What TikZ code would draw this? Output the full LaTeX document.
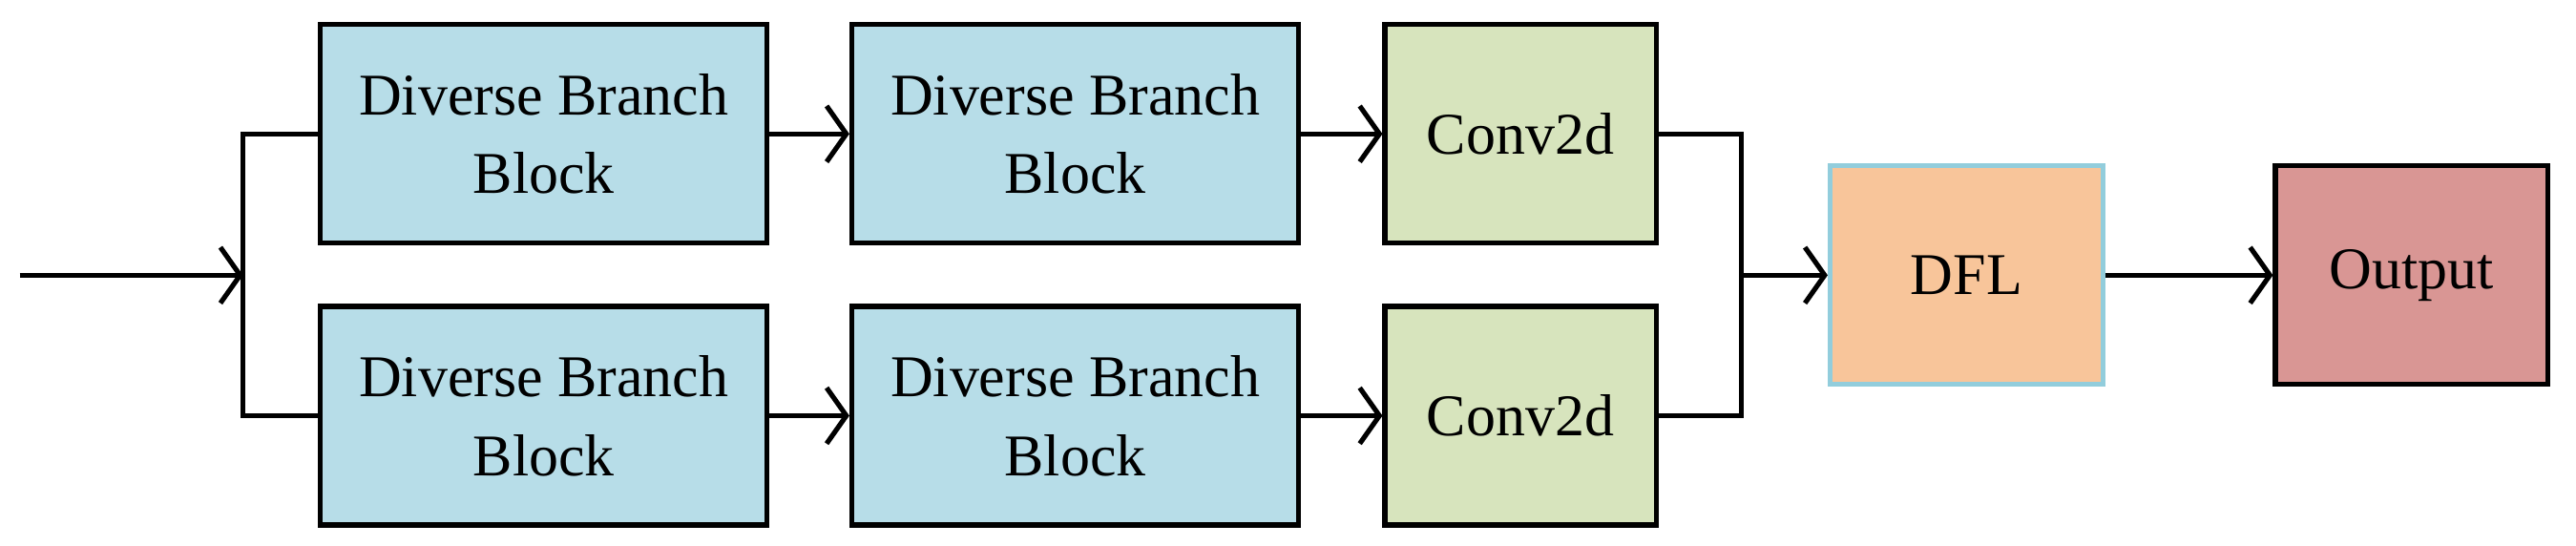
\documentclass[tikz,border=0pt]{standalone}
\usepackage{fontspec}
\setmainfont{Liberation Serif}
\usetikzlibrary{arrows.meta}
\definecolor{dbbblue}{HTML}{B7DDE8}
\definecolor{convgreen}{HTML}{D7E4BD}
\definecolor{dflorange}{HTML}{F8C59A}
\definecolor{dflrim}{HTML}{92CDDC}
\definecolor{outred}{HTML}{D99694}
\begin{document}
\begin{tikzpicture}[x=0.5pt, y=-0.5pt]
      \tikzstyle{block}=[rectangle, draw=black, line width=1.5pt, minimum width=136pt, minimum height=66.5pt, align=center, font=\fontsize{18}{24}\selectfont, inner sep=0pt]
      \tikzstyle{dbb}=[block, fill=dbbblue]
      \tikzstyle{conv}=[block, fill=convgreen, minimum width=82.5pt]
      \tikzstyle{connect}=[-{Straight Barb[length=6pt, width=17pt, line width=1.5pt]}, line width=1.5pt]
      \tikzstyle{wire}=[line width=1.5pt, line join=miter]

      \useasboundingbox (0,0) rectangle (1568,332);

      \node[dbb] (dbbA) at (331,81.5) {Diverse Branch\\Block};
      \node[dbb] (dbbB) at (654.5,81.5) {Diverse Branch\\Block};
      \node[conv] (convA) at (925.5,81.5) {Conv2d};
      \node[dbb] (dbbC) at (331,253) {Diverse Branch\\Block};
      \node[dbb] (dbbD) at (654.5,253) {Diverse Branch\\Block};
      \node[conv] (convB) at (925.5,253) {Conv2d};
      \node[block, fill=dflorange, draw=dflrim, minimum width=83pt] (dfl) at (1197,167.5) {DFL};
      \node[block, fill=outred, minimum width=83pt] (out) at (1468,167.5) {Output};

      \coordinate (in) at (12,167.5);
      \coordinate (split) at (148,167.5);
      \coordinate (merge) at (1060,167.5);

      \draw[connect] (in) -- (split);
      \draw[wire] (dbbA.west) -| (split) |- (dbbC.west);
      \draw[connect] (dbbA) -- (dbbB);
      \draw[connect] (dbbB) -- (convA);
      \draw[connect] (dbbC) -- (dbbD);
      \draw[connect] (dbbD) -- (convB);
      \draw[wire] (convA.east) -| (merge) |- (convB.east);
      \draw[connect] (merge) -- (dfl);
      \draw[connect] (dfl) -- (out);
\end{tikzpicture}
\end{document}
